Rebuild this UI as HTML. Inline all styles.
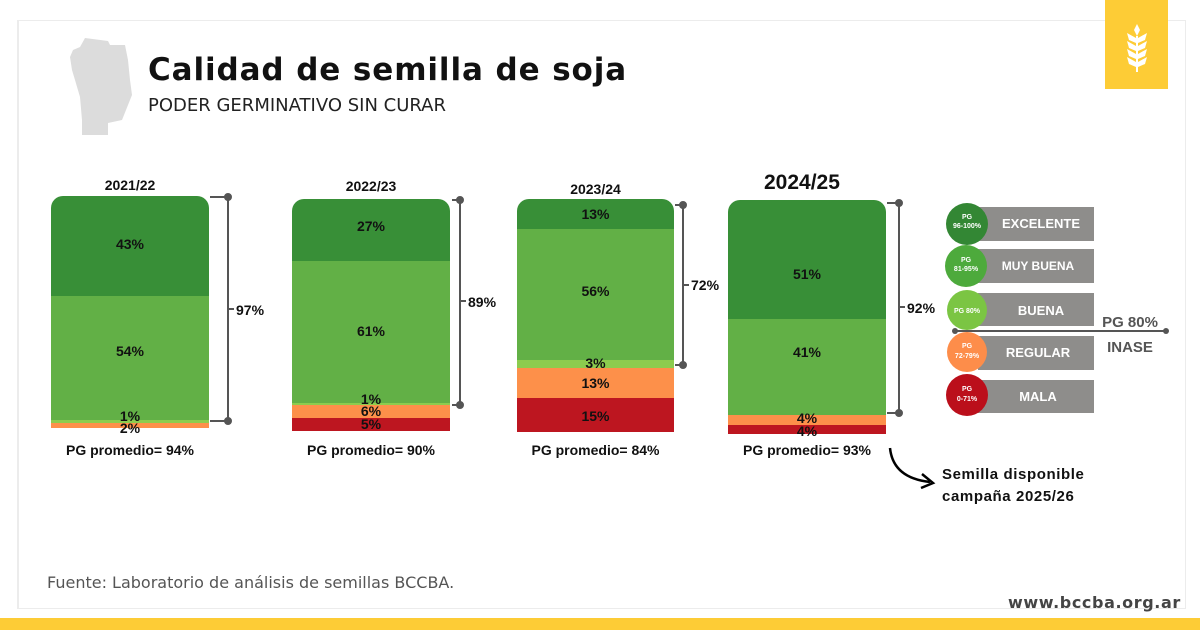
<!DOCTYPE html>
<html><head><meta charset="utf-8"><style>
body{margin:0;width:1200px;height:630px;background:#fff;position:relative;overflow:hidden;font-family:"Liberation Sans",Arial,sans-serif}
.a{position:absolute}
.lab{position:absolute;font-weight:bold;font-size:14px;color:#111;text-align:center;line-height:14px}
</style></head><body>
<div class="a" style="left:17px;top:20px;width:1166px;height:587px;border:1px solid #ececec;border-left:2px solid #ececec"></div>
<div class="a" style="left:1105px;top:0;width:63px;height:89px;background:#fdcc36"></div>
<svg class="a" style="left:1120px;top:20px" width="34" height="55" viewBox="0 0 34 55">
<g fill="#fff"><path d="M17 4 L20 10 L17 16 L14 10Z"/>
<path d="M16 18 L7 13 L9 20 L16 23Z"/><path d="M18 18 L27 13 L25 20 L18 23Z"/>
<path d="M16 26 L7 21 L9 28 L16 31Z"/><path d="M18 26 L27 21 L25 28 L18 31Z"/>
<path d="M16 34 L7 29 L9 36 L16 39Z"/><path d="M18 34 L27 29 L25 36 L18 39Z"/>
<path d="M16 42 L7 37 L9 44 L16 47Z"/><path d="M18 42 L27 37 L25 44 L18 47Z"/>
<rect x="16" y="16" width="2" height="36"/></g></svg>
<div class="a" style="left:0;top:618px;width:1200px;height:12px;background:#fdcc36"></div>
<svg class="a" style="left:70px;top:35px" width="62" height="100" viewBox="0 0 62 100"><path d="M15 3 L38 6 L40 10 L55 10 L58 25 L60 45 L62 60 L52 85 L38 88 L38 100 L12 100 L12 85 L10 62 L5 45 L2 35 L0 22 L3 15 L10 12Z" fill="#dcdcdc"/></svg>
<div class="a" style="left:148px;top:52px;font-family:'DejaVu Sans',sans-serif;font-weight:bold;font-size:31px;letter-spacing:0.9px;color:#111">Calidad de semilla de soja</div>
<div class="a" style="left:148px;top:95px;font-family:'DejaVu Sans',sans-serif;font-size:18px;color:#222">PODER GERMINATIVO SIN CURAR</div>

<!-- bar1 -->
<div class="lab" style="left:51px;width:158px;top:178px">2021/22</div>
<div class="a" style="left:51px;top:196px;width:158px;height:232px;border-radius:12px 12px 0 0;overflow:hidden">
<div style="height:100px;background:#388f37"></div><div style="height:124px;background:#62b046"></div><div style="height:3px;background:#8ccc4e"></div><div style="height:5px;background:#fd904a"></div></div>
<div class="lab" style="left:51px;width:158px;top:237px">43%</div>
<div class="lab" style="left:51px;width:158px;top:344px">54%</div>
<div class="lab" style="left:51px;width:158px;top:409px">1%</div>
<div class="lab" style="left:51px;width:158px;top:421px">2%</div>
<div class="lab" style="left:51px;width:158px;top:443px">PG promedio= 94%</div>
<!-- bar2 -->
<div class="lab" style="left:292px;width:158px;top:179px">2022/23</div>
<div class="a" style="left:292px;top:199px;width:158px;height:232px;border-radius:12px 12px 0 0;overflow:hidden">
<div style="height:62px;background:#388f37"></div><div style="height:142px;background:#62b046"></div><div style="height:2px;background:#8ccc4e"></div><div style="height:13px;background:#fd904a"></div><div style="height:13px;background:#bd1620"></div></div>
<div class="lab" style="left:292px;width:158px;top:219px">27%</div>
<div class="lab" style="left:292px;width:158px;top:324px">61%</div>
<div class="lab" style="left:292px;width:158px;top:392px">1%</div>
<div class="lab" style="left:292px;width:158px;top:404px">6%</div>
<div class="lab" style="left:292px;width:158px;top:417px">5%</div>
<div class="lab" style="left:292px;width:158px;top:443px">PG promedio= 90%</div>
<!-- bar3 -->
<div class="lab" style="left:517px;width:157px;top:182px">2023/24</div>
<div class="a" style="left:517px;top:199px;width:157px;height:233px;border-radius:12px 12px 0 0;overflow:hidden">
<div style="height:30px;background:#388f37"></div><div style="height:131px;background:#62b046"></div><div style="height:8px;background:#8ccc4e"></div><div style="height:30px;background:#fd904a"></div><div style="height:34px;background:#bd1620"></div></div>
<div class="lab" style="left:517px;width:157px;top:207px">13%</div>
<div class="lab" style="left:517px;width:157px;top:284px">56%</div>
<div class="lab" style="left:517px;width:157px;top:356px">3%</div>
<div class="lab" style="left:517px;width:157px;top:376px">13%</div>
<div class="lab" style="left:517px;width:157px;top:409px">15%</div>
<div class="lab" style="left:517px;width:157px;top:443px">PG promedio= 84%</div>
<!-- bar4 -->
<div class="lab" style="left:728px;width:184px;top:172px;font-size:21px;line-height:21px;text-align:left;padding-left:36px">2024/25</div>
<div class="a" style="left:728px;top:200px;width:158px;height:234px;border-radius:12px 12px 0 0;overflow:hidden">
<div style="height:119px;background:#388f37"></div><div style="height:96px;background:#62b046"></div><div style="height:10px;background:#fd904a"></div><div style="height:9px;background:#bd1620"></div></div>
<div class="lab" style="left:728px;width:158px;top:267px">51%</div>
<div class="lab" style="left:728px;width:158px;top:345px">41%</div>
<div class="lab" style="left:728px;width:158px;top:411px">4%</div>
<div class="lab" style="left:728px;width:158px;top:424px">4%</div>
<div class="lab" style="left:728px;width:158px;top:443px">PG promedio= 93%</div>

<svg class="a" style="left:0;top:0" width="1200" height="630">
<g stroke="#555" stroke-width="2" fill="#555">
<line x1="210" y1="197" x2="228" y2="197"/><line x1="228" y1="197" x2="228" y2="421"/><line x1="210" y1="421" x2="228" y2="421"/><line x1="228" y1="309" x2="234" y2="309"/><circle cx="228" cy="197" r="3"/><circle cx="228" cy="421" r="3"/>
<line x1="452" y1="200" x2="460" y2="200"/><line x1="460" y1="200" x2="460" y2="405"/><line x1="452" y1="405" x2="460" y2="405"/><line x1="460" y1="301" x2="466" y2="301"/><circle cx="460" cy="200" r="3"/><circle cx="460" cy="405" r="3"/>
<line x1="675" y1="205" x2="683" y2="205"/><line x1="683" y1="205" x2="683" y2="365"/><line x1="675" y1="365" x2="683" y2="365"/><line x1="683" y1="285" x2="689" y2="285"/><circle cx="683" cy="205" r="3"/><circle cx="683" cy="365" r="3"/>
<line x1="887" y1="203" x2="899" y2="203"/><line x1="899" y1="203" x2="899" y2="413"/><line x1="887" y1="413" x2="899" y2="413"/><line x1="899" y1="307" x2="905" y2="307"/><circle cx="899" cy="203" r="3"/><circle cx="899" cy="413" r="3"/>
</g>
<path d="M890 448 Q893 478 930 482" stroke="#000" stroke-width="2.5" fill="none"/>
<path d="M922 474 L933 483 L921 488" stroke="#000" stroke-width="2.5" fill="none"/>
</svg>
<div class="lab" style="left:236px;top:303px">97%</div>
<div class="lab" style="left:468px;top:295px">89%</div>
<div class="lab" style="left:691px;top:278px">72%</div>
<div class="lab" style="left:907px;top:301px">92%</div>

<!-- legend -->
<div class="a" style="left:978px;top:207px;width:116px;height:34px;background:#8e8d8b"></div>
<div class="a" style="left:978px;top:249px;width:116px;height:34px;background:#8e8d8b"></div>
<div class="a" style="left:978px;top:293px;width:116px;height:33px;background:#8e8d8b"></div>
<div class="a" style="left:978px;top:336px;width:116px;height:34px;background:#8e8d8b"></div>
<div class="a" style="left:978px;top:380px;width:116px;height:33px;background:#8e8d8b"></div>
<div class="lab" style="left:988px;width:106px;top:217px;color:#fff;font-size:13px">EXCELENTE</div>
<div class="lab" style="left:985px;width:106px;top:259px;color:#fff;font-size:12px">MUY BUENA</div>
<div class="lab" style="left:988px;width:106px;top:304px;color:#fff;font-size:13px">BUENA</div>
<div class="lab" style="left:985px;width:106px;top:346px;color:#fff;font-size:13px">REGULAR</div>
<div class="lab" style="left:985px;width:106px;top:390px;color:#fff;font-size:13px">MALA</div>
<svg class="a" style="left:0;top:0" width="1200" height="630">
<line x1="955" y1="331" x2="1166" y2="331" stroke="#555" stroke-width="2"/><circle cx="955" cy="331" r="3" fill="#555"/><circle cx="1166" cy="331" r="3" fill="#555"/>
<g font-family="Liberation Sans" font-weight="bold" fill="#fff" text-anchor="middle" font-size="7">
<circle cx="967" cy="224" r="21" fill="#338734"/><text x="967" y="219">PG</text><text x="967" y="228">96-100%</text>
<circle cx="966" cy="266" r="21" fill="#4daa3c"/><text x="966" y="262">PG</text><text x="966" y="271">81-95%</text>
<circle cx="967" cy="310" r="20" fill="#7bc543"/><text x="967" y="313">PG 80%</text>
<circle cx="967" cy="352" r="20" fill="#fd8d4a"/><text x="967" y="348">PG</text><text x="967" y="358">72-79%</text>
<circle cx="967" cy="395" r="21" fill="#bb0f1b"/><text x="967" y="391">PG</text><text x="967" y="401">0-71%</text>
</g></svg>
<div class="lab" style="left:1090px;width:80px;top:316px;color:#555;font-size:15px">PG 80%</div>
<div class="lab" style="left:1090px;width:80px;top:341px;color:#555;font-size:15px">INASE</div>
<div class="a" style="left:942px;top:464px;font-weight:bold;font-size:15px;line-height:22px;letter-spacing:0.6px;color:#111">Semilla disponible<br>campaña 2025/26</div>
<div class="a" style="left:47px;top:573px;font-family:'DejaVu Sans',sans-serif;font-size:16px;color:#555">Fuente: Laboratorio de análisis de semillas BCCBA.</div>
<div class="a" style="left:1008px;top:593px;font-family:'DejaVu Sans',sans-serif;font-weight:bold;font-size:16px;letter-spacing:0.6px;color:#444">www.bccba.org.ar</div>
</body></html>
